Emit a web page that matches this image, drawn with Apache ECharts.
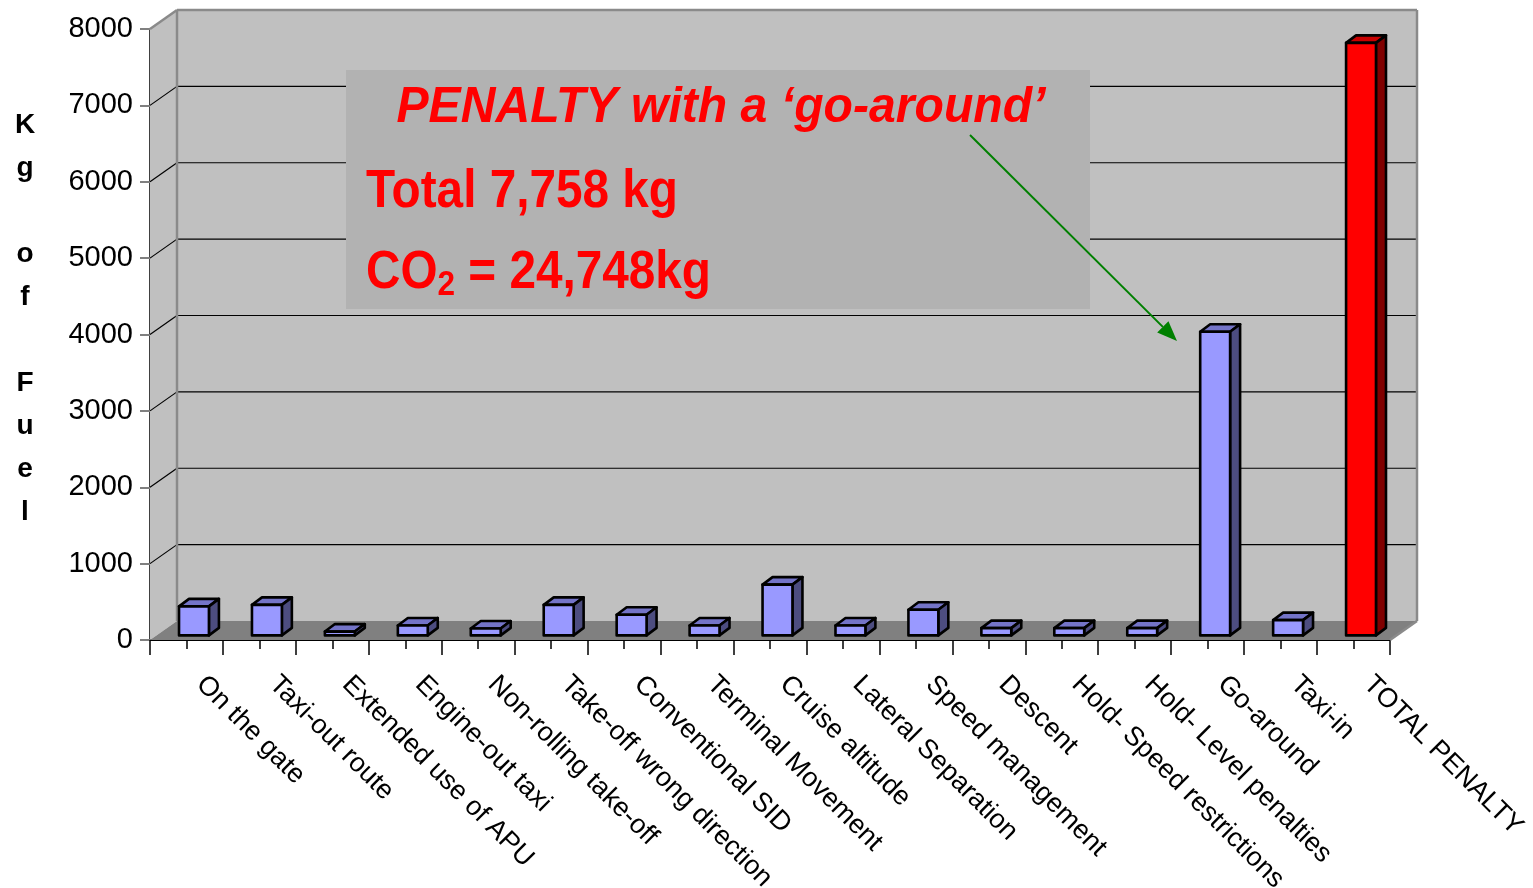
<!DOCTYPE html>
<html>
<head>
<meta charset="utf-8">
<script src="https://cdn.jsdelivr.net/npm/echarts@6/dist/echarts.min.js"></script>
<style>
  html, body { margin: 0; padding: 0; background: #ffffff; }
  #chart { width: 1533px; height: 888px; }
</style>
</head>
<body>
<div id="chart"></div>
<script>
// ---- data ----
const categories = [
  'On the gate', 'Taxi-out route', 'Extended use of APU', 'Engine-out taxi',
  'Non-rolling take-off', 'Take-off wrong direction', 'Conventional SID',
  'Terminal Movement', 'Cruise altitude', 'Lateral Separation',
  'Speed management', 'Descent', 'Hold- Speed restrictions',
  'Hold- Level penalties', 'Go-around', 'Taxi-in', 'TOTAL PENALTY'
];
const fuelKg = [380, 400, 50, 130, 90, 400, 270, 130, 665, 130, 335, 95, 95, 95, 3975, 200, 7758];
const totalIndex = 16;
const yMin = 0, yMax = 8000, yStep = 1000;
const wallGridValues = [1000, 2000, 3000, 4000, 5000, 6000, 7000];
const axisTitle = 'Kg of Fuel';
const noteTitle = 'PENALTY with a \u2018go-around\u2019';
const noteTotal = 'Total 7,758 kg';
const noteCO2 = ['CO', '2', ' = 24,748kg'];

// ---- styling constants ----
const FONT = '"Liberation Sans", Arial, Helvetica, sans-serif';
const DEPTH = [27, -19];          // oblique offset of the back wall
const BAR_DEPTH = [10, -7.5];     // oblique offset of each column
const BAR_SHIFT = [7.5, -4.6];    // columns stand slightly into the floor
const BAR_RATIO = 0.41;
const COLORS = {
  wall: '#c0c0c0', floor: '#808080', edge: '#8a8a8a',
  front: '#9999ff', top: '#7474c8', side: '#4d4d80',
  totFront: '#ff0000', totTop: '#c80000', totSide: '#800000'
};

const chart = echarts.init(document.getElementById('chart'), null, { renderer: 'canvas' });

function renderFrame(params, api) {
  const cs = params.coordSys;
  const x0 = cs.x, x1 = cs.x + cs.width, yT = cs.y, yB = cs.y + cs.height;
  const [dx, dy] = DEPTH;
  const kids = [];
  kids.push({ type: 'rect', shape: { x: x0 + dx, y: yT + dy, width: x1 - x0, height: yB - yT },
    style: { fill: COLORS.wall } });
  kids.push({ type: 'polygon', shape: { points: [[x0, yT], [x0 + dx, yT + dy], [x0 + dx, yB + dy], [x0, yB]] },
    style: { fill: COLORS.wall } });
  kids.push({ type: 'polygon', shape: { points: [[x0, yB], [x1, yB], [x1 + dx, yB + dy], [x0 + dx, yB + dy]] },
    style: { fill: COLORS.floor } });
  wallGridValues.forEach(function (v) {
    const y = api.coord([0, v])[1];
    kids.push({ type: 'line', shape: { x1: x0 + dx, y1: y + dy, x2: x1 + dx, y2: y + dy },
      style: { stroke: '#000', lineWidth: 1.2 } });
    kids.push({ type: 'line', shape: { x1: x0, y1: y, x2: x0 + dx, y2: y + dy },
      style: { stroke: '#000', lineWidth: 1.2 } });
  });
  const edge = { stroke: COLORS.edge, lineWidth: 2.5 };
  kids.push({ type: 'line', shape: { x1: x0 + dx, y1: yT + dy, x2: x0 + dx, y2: yB + dy }, style: edge });
  kids.push({ type: 'line', shape: { x1: x0 + dx, y1: yT + dy, x2: x1 + dx, y2: yT + dy }, style: edge });
  kids.push({ type: 'line', shape: { x1: x1 + dx, y1: yT + dy, x2: x1 + dx, y2: yB + dy }, style: edge });
  kids.push({ type: 'line', shape: { x1: x0, y1: yT, x2: x0 + dx, y2: yT + dy }, style: edge });
  kids.push({ type: 'line', shape: { x1: x1, y1: yB, x2: x1 + dx, y2: yB + dy }, style: edge });
  return { type: 'group', children: kids };
}

function renderColumn(params, api) {
  const i = api.value(0), v = api.value(1);
  const base = api.coord([i, 0]);
  const topPt = api.coord([i, v]);
  const band = api.size([1, 0])[0];
  const w = band * BAR_RATIO;
  const cx = base[0] + BAR_SHIFT[0];
  const yb = base[1] + BAR_SHIFT[1];
  const yt = topPt[1] + BAR_SHIFT[1];
  const l = cx - w / 2, r = cx + w / 2;
  const [dx, dy] = BAR_DEPTH;
  const isTotal = i === totalIndex;
  const stroke = { stroke: '#000', lineWidth: 2.6, lineJoin: 'round' };
  return {
    type: 'group',
    children: [
      { type: 'polygon', shape: { points: [[l, yt], [r, yt], [r + dx, yt + dy], [l + dx, yt + dy]] },
        style: Object.assign({ fill: isTotal ? COLORS.totTop : COLORS.top }, stroke) },
      { type: 'polygon', shape: { points: [[r, yt], [r + dx, yt + dy], [r + dx, yb + dy], [r, yb]] },
        style: Object.assign({ fill: isTotal ? COLORS.totSide : COLORS.side }, stroke) },
      { type: 'rect', shape: { x: l, y: yt, width: w, height: yb - yt },
        style: Object.assign({ fill: isTotal ? COLORS.totFront : COLORS.front }, stroke) }
    ]
  };
}

// arrow from the note towards the go-around column
const arrowFrom = [970, 135], arrowTo = [1177, 341];
const ang = Math.atan2(arrowTo[1] - arrowFrom[1], arrowTo[0] - arrowFrom[0]);
const headLen = 20, headHalf = 8;
const hb = [arrowTo[0] - headLen * Math.cos(ang), arrowTo[1] - headLen * Math.sin(ang)];
const head = [
  arrowTo,
  [hb[0] + headHalf * Math.sin(ang), hb[1] - headHalf * Math.cos(ang)],
  [hb[0] - headHalf * Math.sin(ang), hb[1] + headHalf * Math.cos(ang)]
];

const option = {
  animation: false,
  backgroundColor: '#ffffff',
  grid: { left: 150, right: 143, top: 29, bottom: 248, containLabel: false, outerBoundsMode: 'none' },
  xAxis: [
    {
      type: 'category', data: categories, position: 'bottom',
      axisLine: { show: true, lineStyle: { color: '#000', width: 2 } },
      axisTick: { show: true, interval: 0, alignWithLabel: false, length: 15, lineStyle: { color: '#000', width: 1.5 } },
      axisLabel: {
        interval: 0, rotate: -45, margin: 26, padding: [0, 0, 0, 20],
        color: '#000', fontSize: 27, fontFamily: FONT
      },
      splitLine: { show: false }
    },
    {
      type: 'category', data: categories, position: 'bottom', offset: 0,
      axisLine: { show: false },
      axisTick: { show: true, interval: 0, alignWithLabel: true, length: 9, lineStyle: { color: '#000', width: 1.5 } },
      axisLabel: { show: false },
      splitLine: { show: false }
    }
  ],
  yAxis: {
    type: 'value', min: yMin, max: yMax, interval: yStep,
    axisLine: { show: true, lineStyle: { color: '#000', width: 1.5 } },
    axisTick: { show: true, length: 10, lineStyle: { color: '#808080', width: 2 } },
    axisLabel: {
      margin: 17, color: '#000', fontSize: 29, fontFamily: FONT,
      formatter: function (v) { return String(v); }
    },
    splitLine: { show: false }
  },
  series: [
    {
      type: 'custom', name: 'frame', z: 1, clip: false, silent: true,
      data: [[0, 0]], renderItem: renderFrame
    },
    {
      type: 'custom', name: 'Kg of Fuel', z: 5, clip: false,
      encode: { x: 0, y: 1 },
      data: fuelKg.map(function (v, i) { return [i, v]; }),
      renderItem: renderColumn
    }
  ],
  graphic: [
    {
      type: 'text', z: 10, x: 25, y: 319,
      style: {
        text: axisTitle.split('').join('\n'),
        fontSize: 28, fontWeight: 'bold', fontFamily: FONT, fill: '#000',
        lineHeight: 43, align: 'center', verticalAlign: 'middle'
      }
    },
    {
      type: 'rect', z: 10, shape: { x: 346, y: 70, width: 744, height: 239 },
      style: { fill: '#b2b2b2' }
    },
    {
      type: 'text', z: 11, x: 721, y: 83, scaleX: 0.963,
      style: {
        text: noteTitle, fontSize: 50, fontWeight: 'bold', fontStyle: 'italic',
        fontFamily: FONT, fill: '#ff0000', align: 'center', verticalAlign: 'top'
      }
    },
    {
      type: 'text', z: 11, x: 366, y: 166, scaleX: 0.90,
      style: {
        text: noteTotal, fontSize: 53, fontWeight: 'bold',
        fontFamily: FONT, fill: '#ff0000', align: 'left', verticalAlign: 'top'
      }
    },
    {
      type: 'text', z: 11, x: 366, y: 273, scaleX: 0.90,
      style: {
        text: '{a|' + noteCO2[0] + '}{s|' + noteCO2[1] + '}{a|' + noteCO2[2] + '}',
        fontFamily: FONT, fill: '#ff0000', align: 'left', verticalAlign: 'middle',
        rich: {
          a: { fontSize: 53, fontWeight: 'bold', fontFamily: FONT, fill: '#ff0000', lineHeight: 60 },
          s: { fontSize: 35, fontWeight: 'bold', fontFamily: FONT, fill: '#ff0000', lineHeight: 26, verticalAlign: 'bottom' }
        }
      }
    },
    {
      type: 'line', z: 12,
      shape: { x1: arrowFrom[0], y1: arrowFrom[1], x2: hb[0], y2: hb[1] },
      style: { stroke: '#008000', lineWidth: 2 }
    },
    {
      type: 'polygon', z: 12,
      shape: { points: head },
      style: { fill: '#008000' }
    }
  ]
};

chart.setOption(option);
</script>
</body>
</html>
